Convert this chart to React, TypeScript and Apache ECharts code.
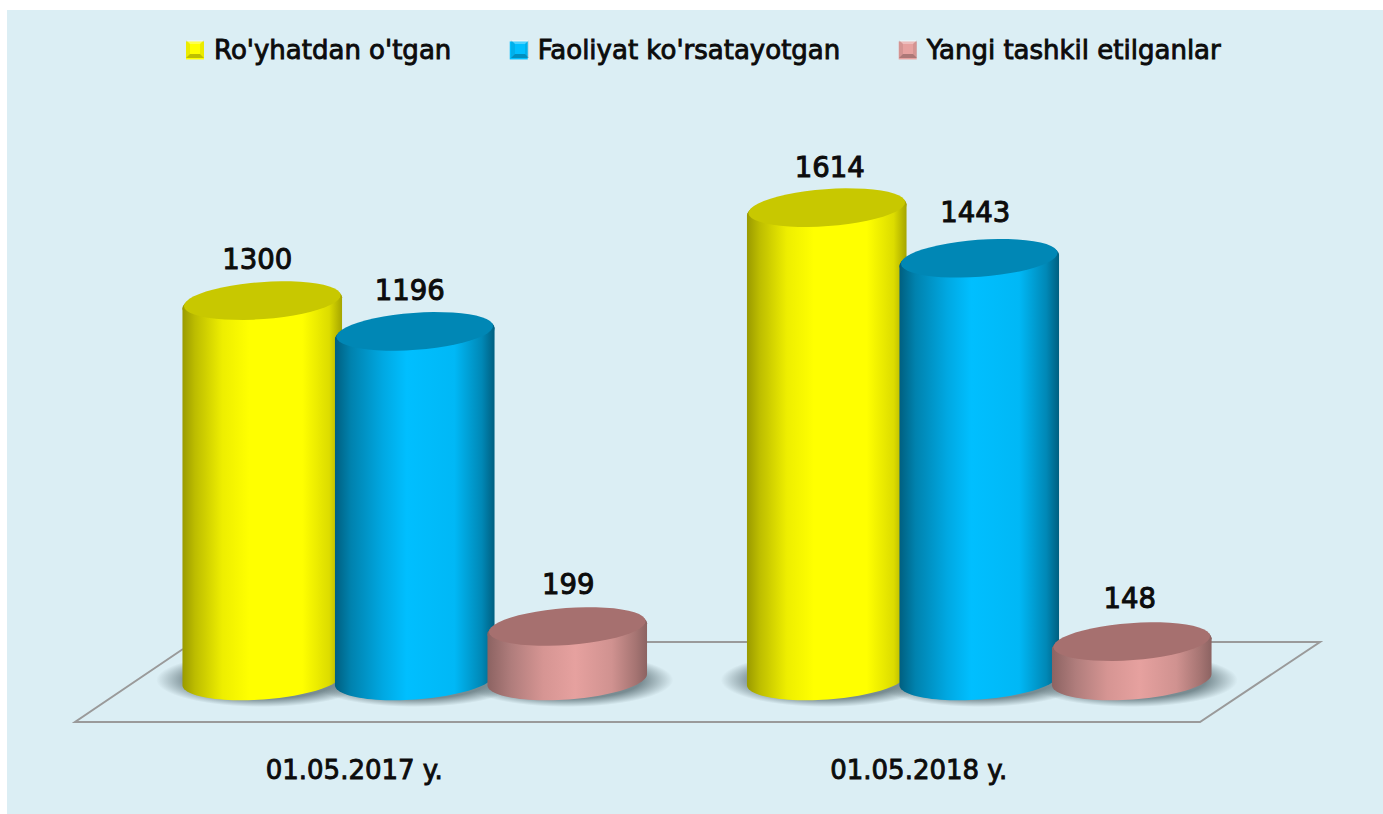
import React, { useEffect, useRef } from "react";
import * as echarts from "echarts";

const categories = ["01.05.2017 y.", "01.05.2018 y."];
const seriesNames = ["Ro'yhatdan o'tgan", "Faoliyat ko'rsatayotgan", "Yangi tashkil etilganlar"];
const registered = [1300, 1614];
const active = [1196, 1443];
const newlyFounded = [199, 148];
const seriesValues = [registered, active, newlyFounded];

const FONT = "'DejaVu Sans', sans-serif";
const INK = "#0c0c0c";
const BG = "#DBEEF4";
const RX = 80;
const RY = 20;
const TILT = (-4.2 * Math.PI) / 180;
const BASE_LIFT = 8.5;
const seriesOffsetX = [-92, 60.5, 213];
const labelNudgeX = [[-5, 3], [-5, -4], [1, -2]];
const labelNudgeY = [[0, 1], [0, -5], [-1, -2]];

const palette = [
  {
    main: "#FFFF00",
    top: "#C8C800",
    stops: [[0, "#9A9A00"], [0.08, "#BDBD00"], [0.25, "#EEEE00"], [0.42, "#FFFF00"], [0.75, "#FFFF00"], [0.92, "#DCDC00"], [1, "#A5A500"]],
  },
  {
    main: "#00BFFF",
    top: "#0087B5",
    stops: [[0, "#005F80"], [0.1, "#0082AE"], [0.3, "#00A8E2"], [0.45, "#00BFFF"], [0.75, "#00B8F6"], [0.92, "#0088B6"], [1, "#005F80"]],
  },
  {
    main: "#E6A19F",
    top: "#A6706F",
    stops: [[0, "#8C6362"], [0.15, "#B07D7C"], [0.35, "#D69593"], [0.55, "#E6A19F"], [0.78, "#D09290"], [0.93, "#A57472"], [1, "#8C6362"]],
  },
];

const grad = (stops: any[]) => ({
  type: "linear",
  x: 0,
  y: 0,
  x2: 1,
  y2: 0,
  colorStops: stops.map(([offset, color]) => ({ offset, color })),
});

const ell = (cx: number, cy: number, t: number, rx = RX, ry = RY) => [
  cx + rx * Math.cos(t) * Math.cos(TILT) - ry * Math.sin(t) * Math.sin(TILT),
  cy + rx * Math.cos(t) * Math.sin(TILT) + ry * Math.sin(t) * Math.cos(TILT),
];
const arc = (cx: number, cy: number, from: number, to: number, rx = RX, ry = RY) => {
  const pts: number[][] = [];
  const n = 48;
  for (let i = 0; i <= n; i++) pts.push(ell(cx, cy, from + ((to - from) * i) / n, rx, ry));
  return pts;
};

const cylinder = (s: number) => (params: any, api: any) => {
  const i = api.value(0);
  const v = api.value(1);
  const p0 = api.coord([i, 0]);
  const p1 = api.coord([i, v]);
  const cx = p0[0] + seriesOffsetX[s];
  const baseY = p0[1] - BASE_LIFT;
  const topY = p1[1];
  const c = palette[s];
  const body = [...arc(cx, baseY, 0, Math.PI), ...arc(cx, topY, Math.PI, 2 * Math.PI)];
  const rim = arc(cx, topY, 0, 2 * Math.PI);
  const face = arc(cx, topY - 2.6, 0, 2 * Math.PI, RX - 1.5, RY - 1.5);
  return {
    type: "group",
    children: [
      { type: "polygon", shape: { points: body }, style: { fill: grad(c.stops) } },
      { type: "polygon", shape: { points: rim }, style: { fill: grad(c.stops) } },
      { type: "polygon", shape: { points: face }, style: { fill: c.top } },
      {
        type: "text",
        style: {
          x: cx + labelNudgeX[s][i],
          y: topY - 44 + labelNudgeY[s][i],
          text: String(v),
          align: "center",
          verticalAlign: "middle",
          font: `27.5px ${FONT}`,
          fill: INK,
          stroke: INK,
          lineWidth: 1,
        },
      },
    ],
  };
};

const shadow = (params: any, api: any) => {
  const i = api.value(0);
  const s = api.value(2);
  const p0 = api.coord([i, 0]);
  const cx = p0[0] + seriesOffsetX[s];
  return {
    type: "ellipse",
    shape: { cx, cy: p0[1] - 8, rx: RX + 26, ry: RY + 7 },
    style: {
      fill: {
        type: "radial",
        x: 0.5,
        y: 0.5,
        r: 0.5,
        colorStops: [
          { offset: 0, color: "rgba(120,140,146,1)" },
          { offset: 0.7, color: "rgba(120,140,146,1)" },
          { offset: 1, color: "rgba(120,140,146,0)" },
        ],
      },
    },
  };
};

const bevel = (x: number, y: number, w: number, h: number) => {
  const b = 4;
  const tri = (points: number[][], fill: string) => ({ type: "polygon", z: 20, silent: true, shape: { points }, style: { fill } });
  return [
    tri([[x, y], [x + w, y], [x + w - b, y + b], [x + b, y + b]], "rgba(255,255,255,0.3)"),
    tri([[x, y], [x + b, y + b], [x + b, y + h - b], [x, y + h]], "rgba(0,0,0,0.08)"),
    tri([[x + w, y], [x + w - b, y + b], [x + w - b, y + h - b], [x + w, y + h]], "rgba(0,0,0,0.08)"),
    tri([[x, y + h], [x + b, y + h - b], [x + w - b, y + h - b], [x + w, y + h]], "rgba(0,0,0,0.25)"),
  ];
};

export default function App() {
  const ref = useRef<HTMLDivElement>(null);
  useEffect(() => {
    document.body.style.margin = "0";
    const chart = echarts.init(ref.current!, undefined, { renderer: "svg" });
    chart.setOption({
      animation: false,
      backgroundColor: "#FFFFFF",
      grid: { left: 72, width: 1129, top: 96, height: 592 },
      xAxis: {
        type: "category",
        data: categories,
        offset: 34,
        axisLine: { show: false },
        axisTick: { show: false },
        axisLabel: {
          margin: 35,
          fontFamily: FONT,
          fontSize: 26,
          color: INK,
          textBorderColor: INK,
          textBorderWidth: 0.9,
        },
      },
      yAxis: { type: "value", min: 0, max: 2000, show: false },
      legend: {
        left: 181,
        top: 32,
        icon: "rect",
        itemWidth: 18,
        itemHeight: 18,
        itemGap: 58,
        data: seriesNames,
        selectedMode: false,
        textStyle: {
          fontFamily: FONT,
          fontSize: 26,
          color: INK,
          textBorderColor: INK,
          textBorderWidth: 0.9,
          padding: [0, 0, 0, 5],
        },
      },
      graphic: [
        { type: "rect", z: -10, silent: true, shape: { x: 7, y: 10, width: 1376, height: 804 }, style: { fill: BG } },
        {
          type: "polyline",
          z: -5,
          silent: true,
          shape: { points: [[183, 649], [75, 722], [1200, 722], [1320, 642], [183, 642]] },
          style: { stroke: "#9A9A9A", lineWidth: 2, fill: "none" },
        },
        ...bevel(186, 40, 18, 18),
        ...bevel(511, 40, 18, 18),
        ...bevel(899, 40, 18, 18),
      ],
      series: [
        {
          name: "shadow",
          type: "custom",
          z: 1,
          clip: false,
          silent: true,
          renderItem: shadow,
          encode: { x: 0, y: 1 },
          data: seriesValues.flatMap((vals, s) => vals.map((v, i) => [i, v, s])),
        },
        ...seriesNames.map((name, s) => ({
          name,
          type: "custom",
          z: 2 + s,
          clip: false,
          renderItem: cylinder(s),
          itemStyle: { color: palette[s].main },
          encode: { x: 0, y: 1 },
          data: seriesValues[s].map((v, i) => [i, v]),
        })),
      ],
    });
    return () => chart.dispose();
  }, []);
  return <div ref={ref} style={{ position: "absolute", left: 0, top: 0, width: 1383, height: 814, overflow: "hidden" }} />;
}
